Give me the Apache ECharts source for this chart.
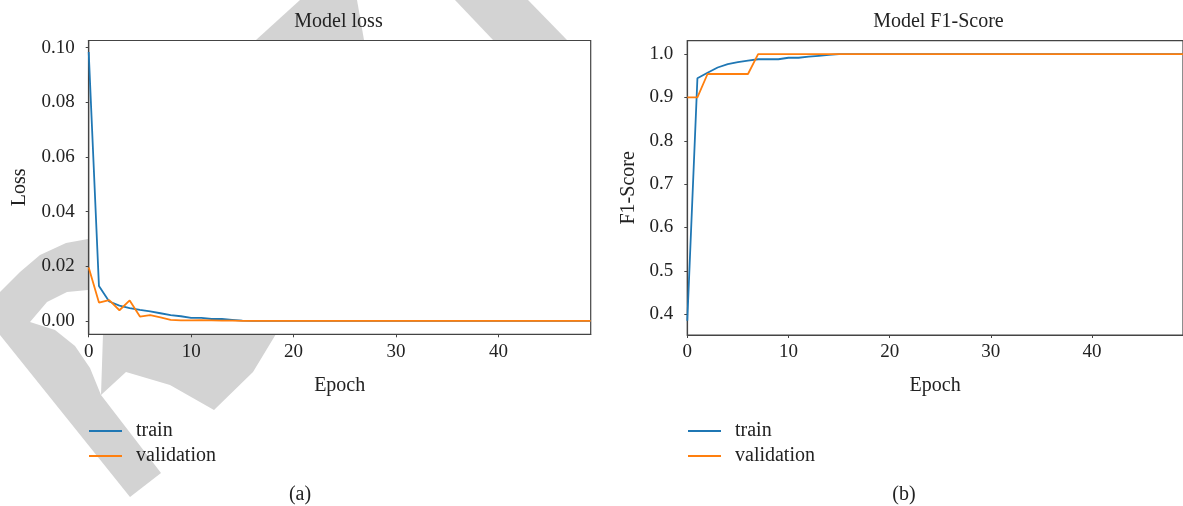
<!DOCTYPE html>
<html><head><meta charset="utf-8">
<script src="https://cdn.jsdelivr.net/npm/echarts@6/dist/echarts.min.js"></script>
<style>html,body{margin:0;padding:0;background:#fff}#c{width:1183px;height:506px}</style>
</head><body><div id="c"></div>
<script>
// ---- data (epoch = array index) ----
const seriesNames = ['train', 'validation'];
const lossTrain = [0.0984,0.0128,0.0071,0.0056,0.0047,0.0040,0.0035,0.0028,0.0021,0.0017,
  0.0011,0.0011,0.0007,0.0007,0.0004,0.0001,0,0,0,0,
  0,0,0,0,0,0,0,0,0,0,
  0,0,0,0,0,0,0,0,0,0,
  0,0,0,0,0,0,0,0,0,0];
const lossVal = [0.0195,0.0067,0.0076,0.0039,0.0075,0.0016,0.0021,0.0013,0.0004,0.0002,
  0.0002,0.0003,0.0002,0.0001,0.0001,0,0,0,0,0,
  0,0,0,0,0,0,0,0,0,0,
  0,0,0,0,0,0,0,0,0,0,
  0,0,0,0,0,0,0,0,0,0];
const f1Train = [0.385,0.944,0.957,0.969,0.977,0.9815,0.985,0.988,0.988,0.988,
  0.9915,0.9915,0.994,0.996,0.998,1,1,1,1,1,
  1,1,1,1,1,1,1,1,1,1,
  1,1,1,1,1,1,1,1,1,1,
  1,1,1,1,1,1,1,1,1,1];
const f1Val = [0.9,0.9,0.954,0.954,0.954,0.954,0.954,1,1,1,
  1,1,1,1,1,1,1,1,1,1,
  1,1,1,1,1,1,1,1,1,1,
  1,1,1,1,1,1,1,1,1,1,
  1,1,1,1,1,1,1,1,1,1];
const xTicks = [0, 10, 20, 30, 40];
const lossTicks = [0, 0.02, 0.04, 0.06, 0.08, 0.10];
const f1Ticks = [0.4, 0.5, 0.6, 0.7, 0.8, 0.9, 1.0];
const titles = ['Model loss', 'Model F1-Score'];
const yNames = ['Loss', 'F1-Score'];
const xName = 'Epoch';
const panelLabels = ['(a)', '(b)'];

// ---- decorative background watermark shapes ----
const watermark = [
  [[256,40],[300,0],[357,0],[364,40]],
  [[455,0],[528,0],[567,40],[493,40]],
  [[88,239],[66,243],[40,255],[20,272],[0,292],[0,335],[130,497],[161,473],[101,395],[90,368],[75,346],[55,330],[30,322],[47,302],[67,292],[88,290]],
  [[103,334],[276,334],[253,372],[214,410],[170,385],[126,372],[101,395]]
];

const FONT = 'Liberation Serif';
const TXT = '#222';
const AX = '#444';
const colors = ['#1f77b4', '#ff7f0e'];

const grids = [
  {left: 88.7, top: 40.5, width: 502, height: 293.8},
  {left: 687.3, top: 40.7, width: 502.2, height: 294.3}
];
const yRanges = [[-0.0049, 0.1026], [0.352, 1.0308]];
const yTicks = [lossTicks, f1Ticks];
const yDigits = [2, 1];
const yGaps = [59, 49];

const titleStyle = {fontFamily: FONT, fontSize: 20, fontWeight: 'normal', color: TXT};
const chart = echarts.init(document.getElementById('c'), null, {renderer: 'canvas'});
const option = {
  animation: false,
  backgroundColor: '#fff',
  graphic: watermark.map(pts => ({
    type: 'polygon', z: -10, silent: true,
    shape: {points: pts},
    style: {fill: '#d3d3d3'}
  })),
  title: [
    {text: titles[0], left: 338.5, top: 12},
    {text: titles[1], left: 938.4, top: 12},
    {text: panelLabels[0], left: 300, top: 485},
    {text: panelLabels[1], left: 904, top: 485}
  ].map(t => Object.assign({textAlign: 'center', padding: 0, textStyle: titleStyle}, t)),
  legend: [89, 688].map(l => ({
    data: seriesNames, left: l, top: 421, orient: 'vertical', padding: 0,
    itemWidth: 33, itemHeight: 2, itemGap: 5, icon: 'rect',
    textStyle: {fontFamily: FONT, fontSize: 20, color: TXT, padding: [0, 0, 0, 9]}
  })),
  grid: grids.map(g => Object.assign({show: true, backgroundColor: '#fff', borderColor: AX, borderWidth: 1.2, containLabel: false}, g)),
  xAxis: [0, 1].map(i => ({
    type: 'value', gridIndex: i, min: 0, max: 49,
    name: xName, nameLocation: 'middle', nameGap: 41,
    nameTextStyle: {fontFamily: FONT, fontSize: 20, color: TXT},
    axisLine: {show: true, onZero: false, lineStyle: {color: AX, width: 1.2}},
    axisTick: {show: true, length: 3, customValues: xTicks, lineStyle: {color: AX}},
    axisLabel: {customValues: xTicks, fontFamily: FONT, fontSize: 19, color: TXT, margin: 8},
    splitLine: {show: false}
  })),
  yAxis: [0, 1].map(i => ({
    type: 'value', gridIndex: i, min: yRanges[i][0], max: yRanges[i][1],
    name: yNames[i], nameLocation: 'middle', nameGap: yGaps[i],
    nameTextStyle: {fontFamily: FONT, fontSize: 20, color: TXT},
    axisLine: {show: true, onZero: false, lineStyle: {color: AX, width: 1.2}},
    axisTick: {show: true, length: 3, customValues: yTicks[i], lineStyle: {color: AX}},
    axisLabel: {customValues: yTicks[i], fontFamily: FONT, fontSize: 19, color: TXT, margin: 14,
      formatter: v => v.toFixed(yDigits[i])},
    splitLine: {show: false}
  })),
  series: [
    [lossTrain, 0, 0], [lossVal, 0, 1], [f1Train, 1, 0], [f1Val, 1, 1]
  ].map(([arr, g, s]) => ({
    type: 'line', name: seriesNames[s], xAxisIndex: g, yAxisIndex: g,
    data: arr.map((v, i) => [i, v]),
    symbol: 'none', showSymbol: false, z: 3 + s,
    lineStyle: {width: 1.8, color: colors[s]},
    itemStyle: {color: colors[s]}
  }))
};
chart.setOption(option);
</script></body></html>
